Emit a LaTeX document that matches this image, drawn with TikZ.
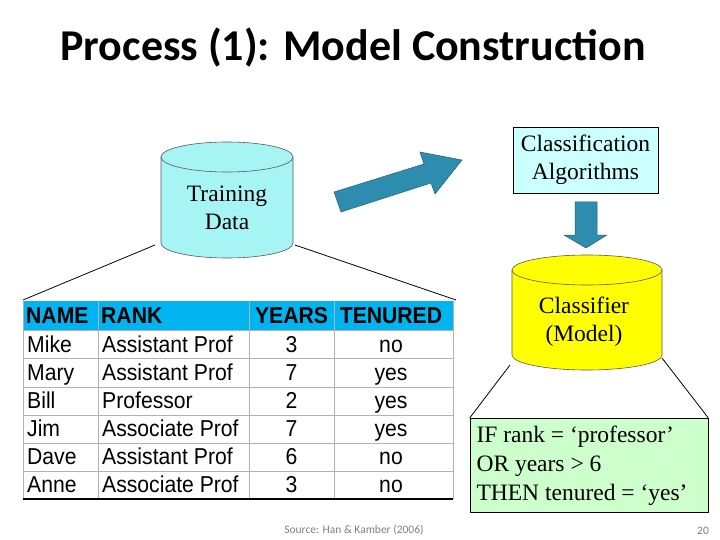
\documentclass[tikz,border=0pt]{standalone}
\usepackage{fontspec}
\setmainfont{Liberation Serif}
\newfontfamily\arialf{Liberation Sans}
\newfontfamily\calf{Carlito}
\definecolor{cyl}{HTML}{A6F4F4}
\definecolor{hdr}{HTML}{00B4F0}
\definecolor{arr}{HTML}{2E8CAE}
\definecolor{boxc}{HTML}{CCFFFF}
\definecolor{rule}{HTML}{CCFFCC}
\definecolor{yel}{HTML}{FFFF00}
\newcommand{\nar}[1]{\scalebox{0.92}[1]{#1}}
\begin{document}
\begin{tikzpicture}[x=1pt,y=-1pt,
  tb/.style={font=\arialf\fontsize{23}{25}\selectfont, inner sep=0pt},
  tbh/.style={font=\arialf\bfseries\fontsize{23}{25}\selectfont, inner sep=0pt},
  tm/.style={font=\fontsize{23.5}{28}\selectfont, align=center},
  thin line/.style={draw=black, line width=0.8pt}]
\useasboundingbox (0,0) rectangle (720,540);
\fill[white] (0,0) rectangle (720,540);
\node[font=\calf\bfseries\fontsize{44}{48}\selectfont] (title) at (353,48) {Process (1): Model Construction};
% training cylinder
\filldraw[fill=cyl, draw=gray!70!black, line width=0.6pt] (161,157) -- (161,243) arc[start angle=180,end angle=0,x radius=66,y radius=15] -- (293,157) -- cycle;
\filldraw[fill=cyl, draw=gray!70!black, line width=0.6pt] (227,157) ellipse[x radius=66,y radius=15];
\node[tm] (train) at (227,208) {Training\\Data};
% table
\fill[hdr] (23,301) rectangle (453,330);
\foreach \y in {330,358.5,387,415,443,471}{\draw[gray!60, line width=1pt] (23,\y) -- (453,\y);}
\foreach \x in {23,98,249,334,453}{\draw[gray!60, line width=1pt] (\x,301) -- (\x,499);}
\draw[black, line width=1.5pt] (23,499) -- (453,499);
\node[tbh, anchor=base west] (h1) at (26,323) {\nar{NAME}};
\node[tbh, anchor=base west] (h2) at (101,323) {\nar{RANK}};
\node[tbh, anchor=base] (h3) at (291.5,323) {\nar{YEARS}};
\node[tbh, anchor=base] (h4) at (391,323) {\nar{TENURED}};
\foreach \n/\r/\yr/\t [count=\i] in {Mike/Assistant Prof/3/no,Mary/Assistant Prof/7/yes,Bill/Professor/2/yes,Jim/Associate Prof/7/yes,Dave/Assistant Prof/6/no,Anne/Associate Prof/3/no}{
  \pgfmathsetmacro\yy{324+28*\i}
  \node[tb, anchor=base west] (n\i) at (27,\yy) {\nar{\n}};
  \node[tb, anchor=base west] (r\i) at (102,\yy) {\nar{\r}};
  \node[tb, anchor=base] (y\i) at (291.5,\yy) {\nar{\yr}};
  \node[tb, anchor=base] (t\i) at (391,\yy) {\nar{\t}};
}
\coordinate (tl) at (23,300);
\coordinate (tr) at (456,300);
\coordinate (cl) at (155,245);
\coordinate (cr) at (295,245);
\draw[thin line] (cl) -- (tl);
\draw[thin line] (cr) -- (tr);
% big arrow
\filldraw[fill=arr, draw=arr!70!black, line width=0.5pt] (334,192) -- (424,164) -- (420,152) -- (462,160) -- (435,194) -- (431,183) -- (341,212) -- cycle;
% classification box
\node[tm, draw=black, fill=boxc, minimum width=145pt, minimum height=66pt, inner sep=1pt] (alg) at (585.5,160) {Classification\\Algorithms};
% down arrow
\filldraw[fill=arr, draw=arr!70!black, line width=0.5pt] (575,202) -- (597,202) -- (597,235) -- (607,235) -- (586,248) -- (564,235) -- (575,235) -- cycle;
% classifier cylinder
\filldraw[fill=yel, draw=gray!70!black, line width=0.6pt] (512,270) -- (512,355) arc[start angle=180,end angle=0,x radius=75,y radius=15] -- (662,270) -- cycle;
\filldraw[fill=yel, draw=gray!70!black, line width=0.6pt] (587,270) ellipse[x radius=75,y radius=15];
\node[tm] (model) at (584,322) {Classifier\\(Model)};
% rule box
\node[draw=black, fill=rule, minimum width=238pt, minimum height=94pt, inner sep=0pt] (rulebox) at (589,465) {};
\node[font=\fontsize{23.5}{29}\selectfont, align=left, anchor=west] (ruletext) at (473,466) {IF rank = ‘professor’\\OR years > 6\\THEN tenured = ‘yes’};
\coordinate (ml) at (510,365);
\coordinate (mr) at (662,358);
\draw[thin line] (ml) -- (rulebox.north west);
\draw[thin line] (mr) -- (rulebox.north east);
\node[font=\calf\fontsize{11.5}{13}\selectfont, text=gray] (src) at (354,530) {Source: Han \& Kamber (2006)};
\node[font=\calf\fontsize{11.5}{13}\selectfont, text=gray] (pg) at (703,531) {20};
\end{tikzpicture}
\end{document}
